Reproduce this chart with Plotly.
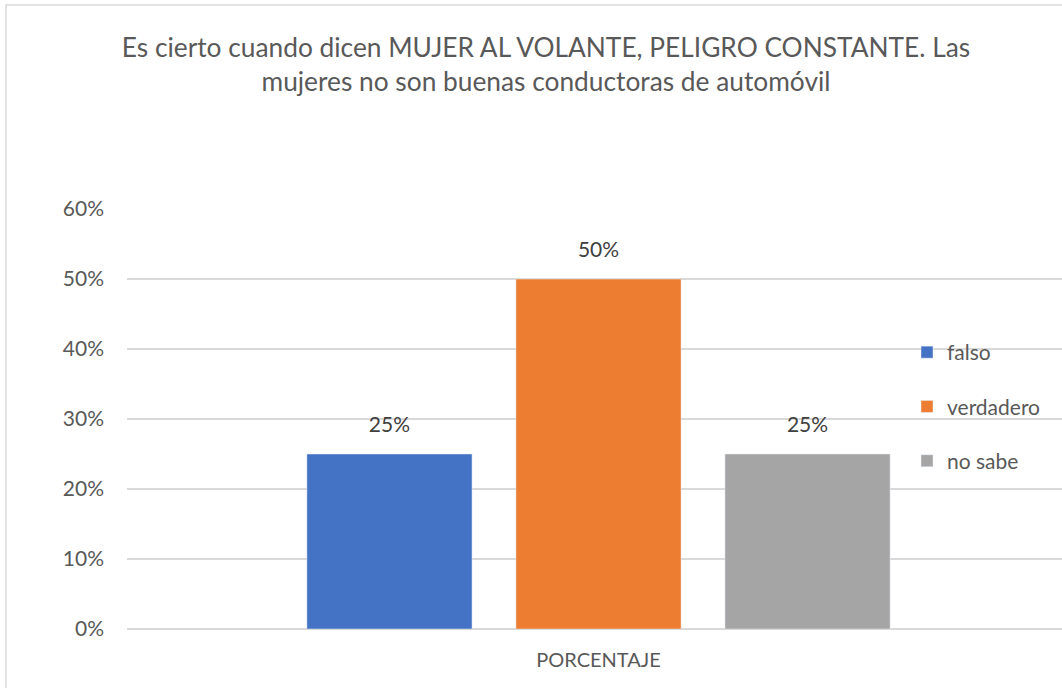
import plotly.graph_objects as go

# data
categoria = ["PORCENTAJE"]
series = ["falso", "verdadero", "no sabe"]
valores = [0.25, 0.50, 0.25]
colores = ["#4472C4", "#ED7D31", "#A5A5A5"]

titulo = ("Es cierto cuando dicen MUJER AL VOLANTE, PELIGRO CONSTANTE. Las<br>"
          "mujeres no son buenas conductoras de automóvil")

W, H = 1062, 688
FONT = "Lato, 'Open Sans', sans-serif"
GRIS_TXT = "#595959"
GAP = 0.335

fig = go.Figure()
for nombre, v, c in zip(series, valores, colores):
    fig.add_trace(go.Bar(
        x=categoria, y=[v], name=nombre, marker_color=c,
        legendgroup=nombre, offsetgroup=nombre, hoverinfo="skip",
    ))
# data labels, grouped like the bars so they sit over each one
for nombre, v in zip(series, valores):
    fig.add_trace(go.Scatter(
        x=categoria, y=[v], mode="markers+text", offsetgroup=nombre,
        text=[f"{v:.0%}"], textposition="top center",
        textfont=dict(size=21, color="#404040", family=FONT),
        marker=dict(size=26, opacity=0), showlegend=False,
        hoverinfo="skip", cliponaxis=False,
    ))

# plot area: left 127, top 209, bottom 629; category centred at ~598
l, t, r, b = 127, 209, 0, 688 - 629
pw = W - l - r
izq = 598.5 - l
der = W - 598.5

fig.update_layout(
    width=W, height=H,
    margin=dict(l=l, r=r, t=t, b=b),
    paper_bgcolor="white", plot_bgcolor="white",
    font=dict(family=FONT, color=GRIS_TXT, size=21),
    title=dict(text=titulo, x=546 / W, xref="container", xanchor="center",
               y=1 - 57 / H, yref="container", yanchor="middle",
               font=dict(size=26.3, color=GRIS_TXT, family=FONT)),
    barmode="group", bargap=GAP, bargroupgap=0.21,
    scattermode="group", scattergap=GAP,
    showlegend=True,
    legend=dict(x=(907 - l) / pw, xanchor="left", y=(629 - 332) / 420,
                yanchor="top", bgcolor="rgba(0,0,0,0)", tracegroupgap=24,
                font=dict(size=21, color=GRIS_TXT, family=FONT),
                itemclick=False),
    xaxis=dict(type="category", range=[-0.5, 0.5 * der / izq],
               showgrid=False, showline=False, zeroline=False, ticks="",
               tickfont=dict(size=20, color=GRIS_TXT), ticklabelstandoff=17),
    yaxis=dict(range=[0, 0.6], dtick=0.1, tickformat=".0%",
               showgrid=True, gridcolor="#D9D9D9", gridwidth=1.5,
               zeroline=True, zerolinecolor="#D9D9D9", zerolinewidth=1.5,
               showline=False, ticks="",
               tickfont=dict(size=21, color=GRIS_TXT), ticklabelstandoff=22),
    # chart border, only its top and left edges fall inside the picture
    shapes=[dict(type="rect", xref="paper", yref="paper",
                 x0=(6 - l) / pw, x1=1.2, y0=-0.3, y1=(629 - 5) / 420,
                 line=dict(color="#D9D9D9", width=1.5), layer="below")],
)

# drop the default 8px body margin so the figure fills the window
fig.write_html("out.html", config={"displayModeBar": False},
               post_script="document.body.style.margin='0px';")
